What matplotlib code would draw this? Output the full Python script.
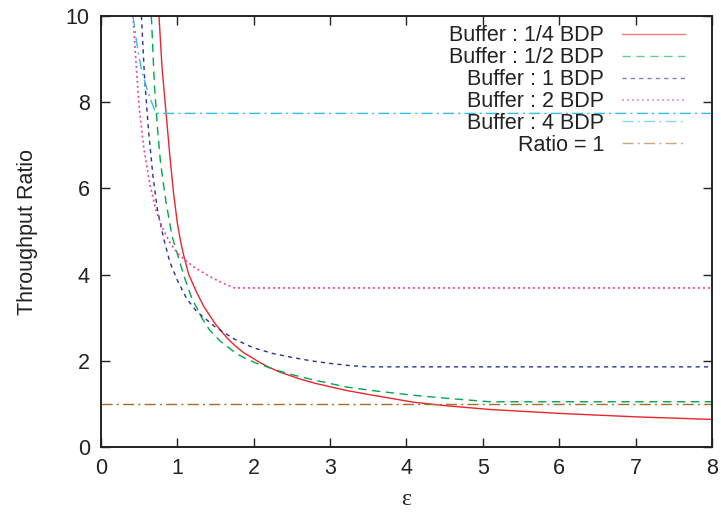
import matplotlib
matplotlib.use("Agg")
import matplotlib.pyplot as plt

plt.rcParams['font.family'] = ['Liberation Sans', 'DejaVu Sans']

# values (epsilon, throughput ratio)
eps_quarter = [0.76, 0.80, 0.86, 0.90, 0.95, 1.0, 1.04, 1.08, 1.15, 1.25, 1.35, 1.5, 1.65, 1.75, 1.86,
               2.08, 2.2, 2.34, 2.6, 2.8, 3.22, 3.5, 4.09, 4.5, 5.1, 5.5, 6.0, 6.5, 7.0, 7.5, 8.0]
ratio_quarter = [10.0, 8.8, 7.6, 6.8, 5.9, 5.2, 4.8, 4.47, 4.0, 3.6, 3.25, 2.85, 2.53, 2.36, 2.2,
                 1.96, 1.85, 1.74, 1.58, 1.48, 1.31, 1.22, 1.04, 0.96, 0.87, 0.83, 0.78, 0.74, 0.70, 0.67, 0.64]

eps_half = [0.66, 0.70, 0.74, 0.78, 0.85, 0.93, 1.03, 1.1, 1.19, 1.32, 1.42, 1.56, 1.78, 1.9,
            2.04, 2.34, 2.52, 2.8, 3.22, 3.6, 4.09, 4.6, 5.09, 6.0, 7.0, 8.0]
ratio_half = [10.0, 8.4, 7.4, 6.6, 5.7, 4.9, 4.3, 3.9, 3.45, 3.0, 2.72, 2.46, 2.16, 2.05,
              1.94, 1.76, 1.67, 1.55, 1.39, 1.3, 1.2, 1.12, 1.05, 1.05, 1.05, 1.05]

eps_one = [0.53, 0.57, 0.62, 0.68, 0.74, 0.82, 0.90, 1.0, 1.12, 1.25, 1.5, 1.75, 2.0, 2.25,
           2.5, 2.75, 3.0, 3.25, 3.5, 5.0, 8.0]
ratio_one = [10.0, 8.6, 7.4, 6.3, 5.5, 4.85, 4.3, 3.87, 3.45, 3.15, 2.78, 2.5, 2.3, 2.17,
             2.08, 2.0, 1.94, 1.89, 1.86, 1.86, 1.86]

eps_two = [0.42, 0.46, 0.50, 0.56, 0.64, 0.72, 0.80, 0.90, 1.0, 1.1, 1.23, 1.43, 1.6, 1.75, 4.0, 8.0]
ratio_two = [10.0, 8.9, 7.9, 6.95, 6.1, 5.5, 5.1, 4.75, 4.5, 4.34, 4.16, 3.95, 3.8, 3.69, 3.69, 3.69]

eps_four = [0.42, 0.47, 0.53, 0.62, 0.72, 4.0, 8.0]
ratio_four = [10.0, 9.36, 8.75, 8.21, 7.74, 7.74, 7.74]

eps_ref = [0.0, 8.0]
ratio_ref = [1.0, 1.0]

fig = plt.figure(figsize=(7.21, 5.16), dpi=100)
ax = fig.add_axes([0.140, 0.1337, 0.8475, 0.8353])

ax.plot(eps_quarter, ratio_quarter, color='#e8262b', lw=1.0, label='Buffer : 1/4 BDP')
ax.plot(eps_half, ratio_half, color='#00a651', lw=1.0, dashes=(6, 4), label='Buffer : 1/2 BDP')
ax.plot(eps_one, ratio_one, color='#2e3192', lw=1.0, dashes=(3, 3), label='Buffer : 1 BDP')
ax.plot(eps_two, ratio_two, color='#f0439a', lw=1.2, dashes=(1.2, 1.8), label='Buffer : 2 BDP')
ax.plot(eps_four, ratio_four, color='#35bdea', lw=1.0, dashes=(8, 3, 1.5, 3), label='Buffer : 4 BDP')
ax.plot(eps_ref, ratio_ref, color='#a0702a', lw=1.0, dashes=(8, 3, 1.5, 3), label='Ratio = 1')

ax.set_xlim(0, 8)
ax.set_ylim(0, 10)
ax.set_xticks(range(0, 9))
ax.set_yticks(range(0, 11, 2))
ax.tick_params(direction='in', length=6.5, width=1.0, top=True, right=True,
               labelsize=15.5, pad=8, color='#222222', labelcolor='#222222')
for s in ax.spines.values():
    s.set_linewidth(1.4)
    s.set_color('#222222')

ax.set_xlabel('ε', fontsize=17, color='#222222', labelpad=7,
              family=['Liberation Serif', 'DejaVu Serif'])
ax.set_ylabel('Throughput Ratio', fontsize=15.5, color='#222222', labelpad=20)

leg = ax.legend(loc='upper right', bbox_to_anchor=(0.956, 0.978), frameon=False,
                markerfirst=False, fontsize=15.5, handlelength=2.95,
                handletextpad=0.8, labelspacing=0.04, borderpad=0, borderaxespad=0)
for t in leg.get_texts():
    t.set_color('#222222')
for h in leg.get_lines():
    h.set_alpha(0.6)

fig.savefig('out.png', dpi=100)
